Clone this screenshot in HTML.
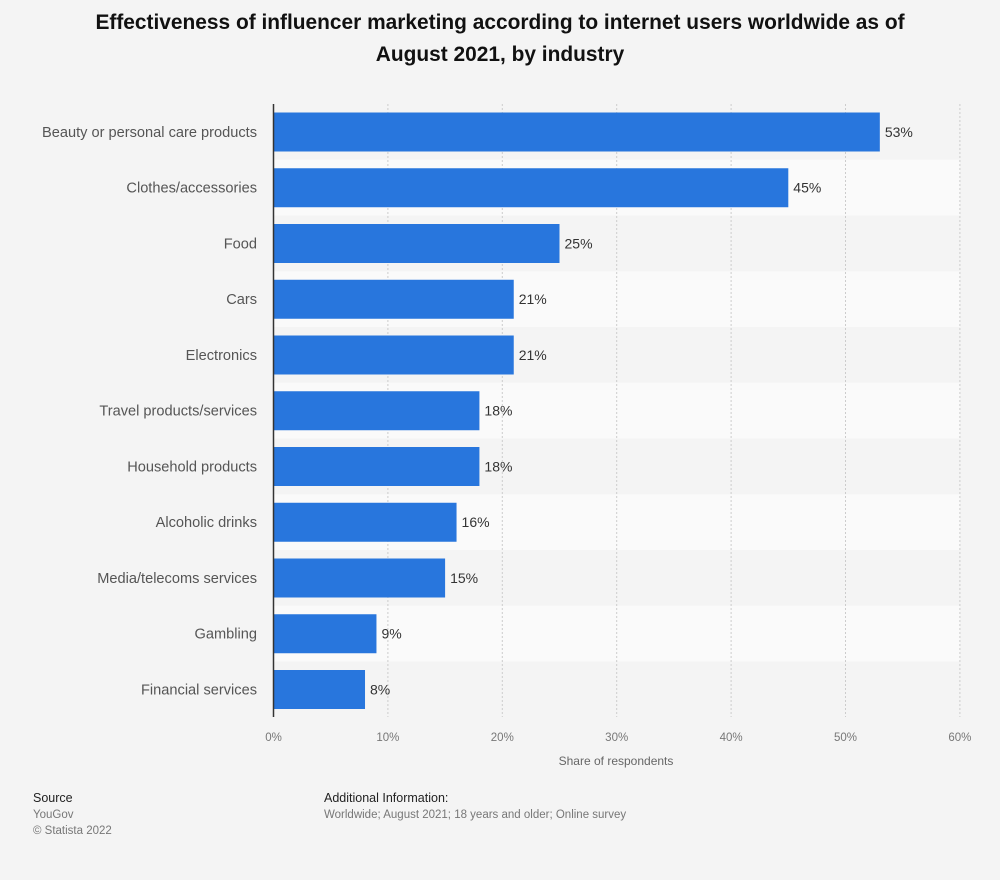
<!DOCTYPE html>
<html><head><meta charset="utf-8"><style>
body{margin:0;background:#f4f4f4;font-family:"Liberation Sans",sans-serif;}
svg text{font-family:"Liberation Sans",sans-serif;}
</style></head><body>
<svg width="1000" height="875" id="c">
<text x="500" y="29" text-anchor="middle" font-size="20.9" font-weight="bold" fill="#111">Effectiveness of influencer marketing according to internet users worldwide as of</text>
<text x="500" y="61" text-anchor="middle" font-size="20.9" font-weight="bold" fill="#111">August 2021, by industry</text>
<g id="bands"></g><g id="grid"></g><g id="bars"></g>
<line x1="273.5" y1="104" x2="273.5" y2="717" stroke="#333" stroke-width="1.5"/>
<text x="616" y="765" text-anchor="middle" font-size="12" fill="#666">Share of respondents</text>
<text x="33" y="802" font-size="12.5" fill="#222">Source</text>
<text x="33" y="818" font-size="11.5" fill="#777">YouGov</text>
<text x="33" y="834" font-size="11.5" fill="#777">© Statista 2022</text>
<text x="324" y="802" font-size="12.5" fill="#222">Additional Information:</text>
<text x="324" y="818" font-size="11.5" fill="#777">Worldwide; August 2021; 18 years and older; Online survey</text>
</svg>
<script>
const categories=["Beauty or personal care products","Clothes/accessories","Food","Cars","Electronics","Travel products/services","Household products","Alcoholic drinks","Media/telecoms services","Gambling","Financial services"];
const values=[53,45,25,21,21,18,18,16,15,9,8];
const ticks=[0,10,20,30,40,50,60];
const NS="http://www.w3.org/2000/svg";
const x0=273.5,pp=11.44,plotTop=104,band=55.75;
const xs=v=>x0+v*pp;
function mk(t,a,p){const e=document.createElementNS(NS,t);for(const k in a)e.setAttribute(k,a[k]);document.getElementById(p).appendChild(e);return e;}
categories.forEach((c,i)=>{
 const y=plotTop+i*band;
 if(i%2==1){const b=mk('rect',{x:x0,y:y,width:xs(60)-x0,height:band,fill:'#fafafa'},'bands');
 
 }
 const r=mk('rect',{x:x0,y:y+8.5,width:xs(values[i])-x0,height:39,fill:'#2876dd'},'bars');
 
 
 const l=mk('text',{x:257,y:y+band/2+5,'text-anchor':'end','font-size':'14.6',fill:'#555'},'bars');l.textContent=c;
 
 
 const v=mk('text',{x:xs(values[i])+5,y:y+band/2+5,'font-size':'14','fill':'#333'},'bars');v.textContent=values[i]+'%';
 
 
});
ticks.forEach(t=>{
 if(t>0){const g=mk('line',{x1:xs(t),y1:plotTop,x2:xs(t),y2:717,stroke:'#ccc','stroke-dasharray':'2,2'},'grid');
 
 }
 const tx=mk('text',{x:xs(t),y:741,'text-anchor':'middle','font-size':'11.5',fill:'#777'},'grid');tx.textContent=t+'%';
 
 
});
</script>
</body></html>
